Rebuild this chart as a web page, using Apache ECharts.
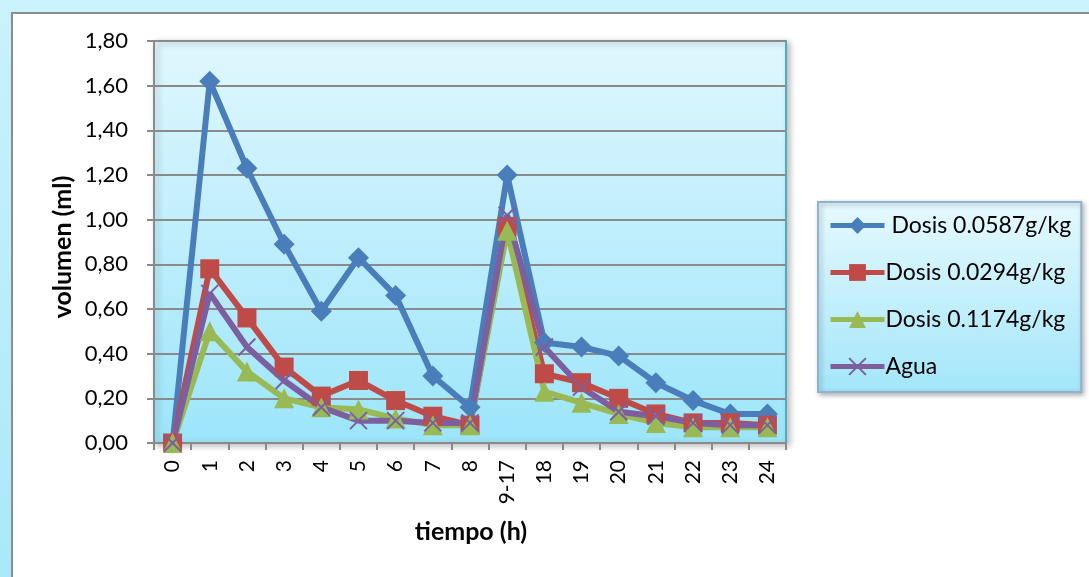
<!DOCTYPE html>
<html>
<head>
<meta charset="utf-8">
<script src="https://cdn.jsdelivr.net/npm/echarts@6/dist/echarts.min.js"></script>
<style>
  html, body { margin: 0; padding: 0; background: #ffffff; }
  #chart { width: 1089px; height: 577px; }
</style>
</head>
<body>
<div id="chart"></div>
<script>
// Hours of collection (9-17 is a pooled overnight interval)
const categories = ['0', '1', '2', '3', '4', '5', '6', '7', '8', '9-17', '18', '19', '20', '21', '22', '23', '24'];

// Volume collected (ml) per treatment
const dosis0587 = [0, 1.62, 1.23, 0.89, 0.59, 0.83, 0.66, 0.30, 0.16, 1.20, 0.45, 0.43, 0.39, 0.27, 0.19, 0.13, 0.13];
const dosis0294 = [0, 0.78, 0.56, 0.34, 0.21, 0.28, 0.19, 0.12, 0.08, 0.97, 0.31, 0.27, 0.20, 0.13, 0.09, 0.09, 0.08];
const dosis1174 = [0, 0.50, 0.32, 0.20, 0.16, 0.15, 0.11, 0.08, 0.08, 0.95, 0.23, 0.18, 0.13, 0.09, 0.07, 0.07, 0.07];
const agua      = [0, 0.67, 0.43, 0.28, 0.16, 0.10, 0.10, 0.09, 0.09, 1.02, 0.43, 0.25, 0.14, 0.12, 0.09, 0.08, 0.08];

const seriesNames = [' Dosis 0.0587g/kg', 'Dosis 0.0294g/kg', 'Dosis 0.1174g/kg', 'Agua'];

const yTicks = { min: 0, max: 1.8, step: 0.2 };

const FONT = 'Lato';
const crossPath = 'path://M0,0L10,10M10,0L0,10';

const chart = echarts.init(document.getElementById('chart'), null, { renderer: 'canvas' });

function lineSeries(name, data, color, symbol, size, extra) {
  return Object.assign({
    name: name,
    type: 'line',
    data: data,
    symbol: symbol,
    symbolSize: size,
    showAllSymbol: true,
    lineStyle: { color: color, width: 6 },
    itemStyle: { color: color },
    emphasis: { disabled: true },
    animation: false
  }, extra || {});
}

const option = {
  animation: false,
  backgroundColor: '#ffffff',
  textStyle: { fontFamily: FONT },
  graphic: [
    {
      type: 'rect', z: -10, silent: true,
      shape: { x: 0, y: 0, width: 1089, height: 577 },
      style: {
        fill: new echarts.graphic.LinearGradient(0, 0, 0, 1, [
          { offset: 0, color: '#c9f2fc' },
          { offset: 1, color: '#a9e9f9' }
        ])
      }
    },
    {
      type: 'rect', z: -9, silent: true,
      shape: { x: 12, y: 13, width: 1100, height: 600 },
      style: { fill: '#ffffff', stroke: '#8c8c8c', lineWidth: 2 }
    },
    {
      type: 'text', silent: true,
      x: 63, y: 247, rotation: Math.PI / 2,
      style: {
        text: 'volumen (ml)', fill: '#000000',
        font: 'bold 25px ' + FONT, align: 'center', verticalAlign: 'middle'
      }
    },
    {
      type: 'text', silent: true,
      x: 471, y: 532,
      style: {
        text: 'tiempo (h)', fill: '#000000',
        font: 'bold 25px ' + FONT, align: 'center', verticalAlign: 'middle'
      }
    }
  ],
  grid: {
    left: 154, right: 303, top: 41, bottom: 134,
    show: true,
    backgroundColor: new echarts.graphic.LinearGradient(0, 0, 0, 1, [
      { offset: 0, color: '#e0f7fe' },
      { offset: 1, color: '#9ce5fa' }
    ]),
    borderColor: '#4bacc6',
    borderWidth: 2,
    shadowColor: 'rgba(0,0,0,0.25)',
    shadowBlur: 6,
    shadowOffsetX: 3,
    shadowOffsetY: 2
  },
  legend: {
    orient: 'vertical',
    left: 818, top: 202,
    width: 264,
    padding: [12, 10, 14, 10],
    itemGap: 24,
    itemWidth: 54,
    itemHeight: 21,
    backgroundColor: new echarts.graphic.LinearGradient(0, 0, 0, 1, [
      { offset: 0, color: '#e6f9fe' },
      { offset: 1, color: '#a3e6fa' }
    ]),
    borderColor: '#8fb3cf',
    borderWidth: 2,
    shadowColor: 'rgba(0,0,0,0.3)',
    shadowBlur: 5,
    shadowOffsetX: 2,
    shadowOffsetY: 2,
    lineStyle: { width: 5 },
    textStyle: { fontFamily: FONT, fontSize: 23, color: '#000000', padding: [0, 0, 0, -4] },
    data: seriesNames
  },
  xAxis: {
    type: 'category',
    data: categories,
    boundaryGap: true,
    axisLine: { lineStyle: { color: '#8a8a8a', width: 2 } },
    axisTick: { show: true, length: 7, lineStyle: { color: '#8a8a8a', width: 2 } },
    axisLabel: { rotate: 90, margin: 17, fontFamily: FONT, fontSize: 21, color: '#000000' },
    splitLine: { show: false }
  },
  yAxis: {
    type: 'value',
    min: yTicks.min, max: yTicks.max, interval: yTicks.step,
    axisLine: { show: true, lineStyle: { color: '#8a8a8a', width: 2 } },
    axisTick: { show: true, length: 7, lineStyle: { color: '#8a8a8a', width: 2 } },
    axisLabel: {
      margin: 26, fontFamily: FONT, fontSize: 22, color: '#000000',
      formatter: v => v.toFixed(2).replace('.', ',')
    },
    splitLine: { show: true, lineStyle: { color: '#8a8a8a', width: 2 } }
  },
  series: [
    lineSeries(seriesNames[0], dosis0587, '#4a7ebb', 'diamond', 21),
    lineSeries(seriesNames[1], dosis0294, '#be4b48', 'rect', 19),
    lineSeries(seriesNames[2], dosis1174, '#98b954', 'triangle', 20),
    lineSeries(seriesNames[3], agua, '#7d5fa0', crossPath, 17, {
      itemStyle: { color: '#7d5fa0', borderColor: '#7d5fa0', borderWidth: 2 }
    })
  ]
};

chart.setOption(option);
</script>
</body>
</html>
